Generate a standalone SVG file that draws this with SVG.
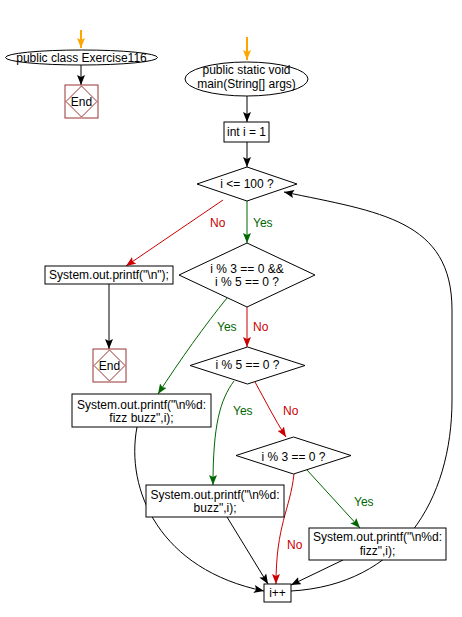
<svg xmlns="http://www.w3.org/2000/svg" width="462" height="617" viewBox="0 0 462 617">
<style>
text{font-family:"Liberation Sans",Arial,sans-serif;font-size:12px;fill:#000;text-anchor:middle}
.n{fill:#fff;stroke:#000;stroke-width:1}
.e{fill:#fff;stroke:#993333;stroke-width:1}
.ed{fill:none;stroke:#993333;stroke-width:1}
.c{fill:none;stroke:#000;stroke-width:1}
.g{fill:none;stroke:#006600;stroke-width:1}
.r{fill:none;stroke:#cc0000;stroke-width:1}
.o{fill:none;stroke:#ffa500;stroke-width:2}
.ly{fill:#006600;text-anchor:start}
.ln{fill:#cc0000;text-anchor:start}
</style>
<defs>
<marker id="ak" markerUnits="userSpaceOnUse" markerWidth="11" markerHeight="8" refX="10" refY="4" orient="auto"><path d="M0,0 L10,4 L0,8 L2,4 z" fill="#000"/></marker>
<marker id="ag" markerUnits="userSpaceOnUse" markerWidth="11" markerHeight="8" refX="10" refY="4" orient="auto"><path d="M0,0 L10,4 L0,8 L2,4 z" fill="#006600"/></marker>
<marker id="ar" markerUnits="userSpaceOnUse" markerWidth="11" markerHeight="8" refX="10" refY="4" orient="auto"><path d="M0,0 L10,4 L0,8 L2,4 z" fill="#cc0000"/></marker>
<marker id="ao" markerUnits="userSpaceOnUse" markerWidth="11" markerHeight="8" refX="10" refY="4" orient="auto"><path d="M0,0 L10,4 L0,8 L2,4 z" fill="#ffa500"/></marker>
</defs>
<g id="connectors">
<path class="o" d="M81,30 L81,48" marker-end="url(#ao)"/>
<path class="c" d="M81,65 L81,85" marker-end="url(#ak)"/>
<path class="o" d="M247,37 L247,60" marker-end="url(#ao)"/>
<path class="c" d="M247,96 L247,122" marker-end="url(#ak)"/>
<path class="c" d="M247,142 L247,167" marker-end="url(#ak)"/>
<path class="g" d="M247,201 L247,243" marker-end="url(#ag)"/>
<path class="r" d="M223,200 L126,266" marker-end="url(#ar)"/>
<path class="c" d="M109,284 L109,349" marker-end="url(#ak)"/>
<path class="r" d="M247,307 L247,347" marker-end="url(#ar)"/>
<path class="g" d="M227,298 C205,325 180,360 158,394" marker-end="url(#ag)"/>
<path class="g" d="M234,381 C220,400 213,425 213,485" marker-end="url(#ag)"/>
<path class="r" d="M255,382 C265,400 275,420 286,437" marker-end="url(#ar)"/>
<path class="r" d="M294,474 C290,510 276,525 276,584" marker-end="url(#ar)"/>
<path class="g" d="M307,470 L360,528" marker-end="url(#ag)"/>
<path class="c" d="M137,427 C125,490 160,570 264,591" marker-end="url(#ak)"/>
<path class="c" d="M227,517 L268,584" marker-end="url(#ak)"/>
<path class="c" d="M343,560 L291,585" marker-end="url(#ak)"/>
<path class="c" d="M291,591 C400,585 452,500 452,400 L452,310 C452,220 380,212 284,192" marker-end="url(#ak)"/>
</g>
<g id="labels">
<text class="ly" x="253" y="227">Yes</text>
<text class="ln" x="210" y="227">No</text>
<text class="ly" x="217" y="331">Yes</text>
<text class="ln" x="253" y="331">No</text>
<text class="ly" x="233" y="415">Yes</text>
<text class="ln" x="283" y="415">No</text>
<text class="ly" x="354" y="506">Yes</text>
<text class="ln" x="287" y="549">No</text>
</g>
<g id="class-start">
<ellipse class="n" cx="81.5" cy="57.5" rx="76" ry="7.5"/>
<text x="81.5" y="62">public class Exercise116</text>
</g>
<g id="end1">
<rect class="e" x="65" y="85" width="33" height="33"/>
<path class="ed" d="M81.5,86 L97,101.5 L81.5,117 L66,101.5 z"/>
<text x="81.5" y="106">End</text>
</g>
<g id="main-start">
<ellipse class="n" cx="246.5" cy="79" rx="61.5" ry="17"/>
<text x="246.5" y="74">public static void</text>
<text x="246.5" y="88">main(String[] args)</text>
</g>
<g id="init">
<rect class="n" x="224" y="122" width="45" height="20"/>
<text x="246.5" y="136">int i = 1</text>
</g>
<g id="cond1">
<path class="n" d="M247,167 L297,184 L247,201 L197,184 z"/>
<text x="247" y="188">i &lt;= 100 ?</text>
</g>
<g id="print-nl">
<rect class="n" x="45" y="266" width="128" height="18"/>
<text x="109" y="279">System.out.printf("\n");</text>
</g>
<g id="end2">
<rect class="e" x="93" y="349" width="33" height="33"/>
<path class="ed" d="M109.5,350 L125,365.5 L109.5,381 L94,365.5 z"/>
<text x="109.5" y="370">End</text>
</g>
<g id="cond2">
<path class="n" d="M247,243 L315,275 L247,307 L179,275 z"/>
<text x="247" y="273">i % 3 == 0 &amp;&amp;</text>
<text x="247" y="286">i % 5 == 0 ?</text>
</g>
<g id="cond3">
<path class="n" d="M247.5,347 L305,365.5 L247.5,384 L190,365.5 z"/>
<text x="247.5" y="369">i % 5 == 0 ?</text>
</g>
<g id="print-fizzbuzz">
<rect class="n" x="72" y="394" width="139" height="33"/>
<text x="141.5" y="409">System.out.printf("\n%d:</text>
<text x="141.5" y="422">fizz buzz",i);</text>
</g>
<g id="cond4">
<path class="n" d="M293.5,437 L351,455.5 L293.5,474 L236,455.5 z"/>
<text x="293.5" y="461">i % 3 == 0 ?</text>
</g>
<g id="print-buzz">
<rect class="n" x="146" y="485" width="138" height="32"/>
<text x="215" y="499">System.out.printf("\n%d:</text>
<text x="215" y="512">buzz",i);</text>
</g>
<g id="print-fizz">
<rect class="n" x="309" y="528" width="137" height="32"/>
<text x="377.5" y="541">System.out.printf("\n%d:</text>
<text x="377.5" y="555">fizz",i);</text>
</g>
<g id="incr">
<rect class="n" x="264" y="584" width="27" height="18"/>
<text x="277.5" y="597">i++</text>
</g>
</svg>
